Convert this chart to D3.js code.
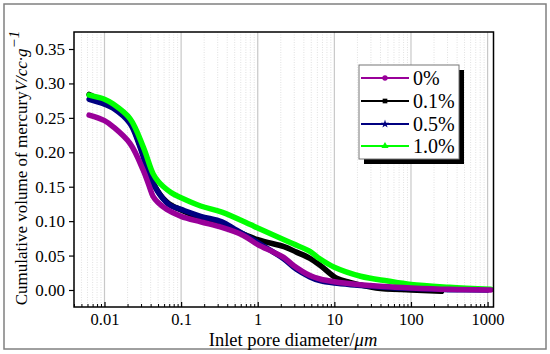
<!DOCTYPE html>
<html><head><meta charset="utf-8">
<script src="https://cdn.jsdelivr.net/npm/d3@7"></script>
<style>body{margin:0;background:#fff}svg{display:block}</style>
</head><body><svg id="c" width="550" height="354"></svg>
<script>
// Pore diameter (µm) and cumulative volume (cc/g)
const series = ["0%", "0.1%", "0.5%", "1.0%"];
const d0  = [0.0063,0.01,0.013,0.0215,0.032,0.038,0.043,0.05,0.065,0.1,0.18,0.34,0.63,1,1.6,2.2,2.9,4.8,6.5,10,20,44,100,316,1100];
const v0  = [0.254,0.246,0.237,0.213,0.174,0.152,0.136,0.127,0.117,0.107,0.099,0.091,0.080,0.066,0.055,0.047,0.036,0.021,0.016,0.012,0.008,0.005,0.003,0.001,0.000];
const d01 = [0.0063,0.01,0.013,0.0215,0.029,0.039,0.046,0.053,0.062,0.072,0.1,0.18,0.34,1,2.2,3.2,4.8,6.5,10.7,16,35,100,250];
const v01 = [0.284,0.273,0.266,0.244,0.210,0.167,0.150,0.139,0.130,0.124,0.116,0.104,0.094,0.073,0.063,0.055,0.046,0.036,0.017,0.011,0.003,0.000,-0.002];
const d05 = [0.0063,0.01,0.013,0.0215,0.029,0.039,0.046,0.053,0.062,0.072,0.1,0.18,0.34,0.53,1,1.6,2.2,3.2,4.8,6.3,10,20,44,100,316,1000];
const v05 = [0.277,0.270,0.264,0.242,0.208,0.165,0.149,0.138,0.129,0.123,0.117,0.107,0.099,0.087,0.069,0.055,0.045,0.030,0.019,0.014,0.010,0.007,0.004,0.002,0.0005,0.000];
const d10 = [0.0063,0.01,0.013,0.0215,0.032,0.043,0.05,0.059,0.075,0.1,0.18,0.34,0.8,1,2.2,2.9,4.8,6.3,10,22,50,100,316,1100];
const v10 = [0.283,0.277,0.270,0.249,0.208,0.169,0.158,0.150,0.141,0.134,0.122,0.113,0.095,0.090,0.073,0.067,0.056,0.046,0.033,0.020,0.013,0.008,0.004,0.001];
const xTicks = [0.01, 0.1, 1, 10, 100, 1000];
const xTickLabels = ["0.01", "0.1", "1", "10", "100", "1000"];
const yTicks = [0, 0.05, 0.10, 0.15, 0.20, 0.25, 0.30, 0.35];

const colors = {"0%":"#990099","0.1%":"#000000","0.5%":"#000080","1.0%":"#00ff00"};
const data = {"0%":[d0,v0],"0.1%":[d01,v01],"0.5%":[d05,v05],"1.0%":[d10,v10]};

const svg = d3.select("#c");
const L=74, R=493.5, T=32, B=307;
const x = d3.scaleLog().domain([Math.pow(10,-2.398), Math.pow(10,3.077)]).range([L,R]);
const y = d3.scaleLinear().domain([-0.0247, 0.3747]).range([B,T]);
const serif = "'Liberation Serif','Times New Roman','DejaVu Serif',serif";

// outer border
svg.append("rect").attr("x",4).attr("y",4).attr("width",542).attr("height",345)
  .attr("fill","none").attr("stroke","#808080").attr("stroke-width",1.5);

// grid lines
const minors = [];
for (let e=-3; e<=3; e++) for (let m=2; m<=9; m++) { const v=m*Math.pow(10,e); if (v> x.domain()[0] && v < x.domain()[1]) minors.push(v); }
svg.append("g").selectAll("line").data(minors).join("line")
  .attr("x1",d=>x(d)).attr("x2",d=>x(d)).attr("y1",T).attr("y2",B)
  .attr("stroke","#d9d9d9").attr("stroke-width",0.8).attr("stroke-dasharray","1,1.5");
svg.append("g").selectAll("line").data(xTicks).join("line")
  .attr("x1",d=>x(d)).attr("x2",d=>x(d)).attr("y1",T).attr("y2",B)
  .attr("stroke","#c8c8c8").attr("stroke-width",1.2);

// curves
const line = d3.line().x(d=>x(d[0])).y(d=>y(d[1])).curve(d3.curveCatmullRom.alpha(0.5));
const drawOrder = ["0.1%","0.5%","1.0%","0%"];
svg.append("clipPath").attr("id","pc").append("rect").attr("x",L).attr("y",T).attr("width",R-L).attr("height",B-T);
drawOrder.forEach(s=>{
  const [ds,vs] = data[s];
  const pts = ds.map((d,i)=>[d,vs[i]]);
  svg.append("path").datum(pts).attr("d",line).attr("fill","none")
    .attr("stroke",colors[s]).attr("stroke-width",5.5).attr("stroke-linejoin","round").attr("stroke-linecap","round")
    .attr("clip-path","url(#pc)");
});

// axes
const yAxis = d3.axisLeft(y).tickValues(yTicks).tickSize(5).tickPadding(4).tickFormat(d3.format(".2f"));
const gy = svg.append("g").attr("transform",`translate(${L},0)`).call(yAxis);
gy.attr("font-family",null).attr("font-size",null);
gy.select(".domain").remove();
gy.selectAll(".tick line").attr("stroke","#000").attr("stroke-width",1.2);
gy.selectAll("text").style("font-family",serif).style("font-size","17px").attr("fill","#000");

const xAxisMajor = d3.axisBottom(x).tickValues(xTicks).tickSize(-5).tickPadding(6).tickFormat((d,i)=>xTickLabels[i]);
const gx = svg.append("g").attr("transform",`translate(0,${B})`).call(xAxisMajor);
gx.attr("font-family",null).attr("font-size",null);
gx.select(".domain").remove();
gx.selectAll(".tick line").attr("stroke","#000").attr("stroke-width",1.2);
gx.selectAll("text").style("font-family",serif).style("font-size","16.5px").attr("fill","#000");
const xAxisMinor = d3.axisBottom(x).tickValues(minors).tickSize(-3).tickFormat("");
const gm = svg.append("g").attr("transform",`translate(0,${B})`).call(xAxisMinor);
gm.select(".domain").remove();
gm.selectAll(".tick line").attr("stroke","#000").attr("stroke-width",1);

// frame
svg.append("rect").attr("x",L).attr("y",T).attr("width",R-L).attr("height",B-T)
  .attr("fill","none").attr("stroke","#000").attr("stroke-width",1.5);

// axis titles
const xt = svg.append("text").attr("x",293).attr("y",346).attr("text-anchor","middle")
  .style("font-family",serif).style("font-size","18.5px").attr("fill","#000");
xt.append("tspan").text("Inlet pore diameter/");
xt.append("tspan").attr("font-style","italic").text("μm");

const yt = svg.append("text").attr("transform","translate(27,168) rotate(-90)").attr("text-anchor","middle")
  .style("font-family",serif).style("font-size","17px").attr("fill","#000");
yt.append("tspan").text("Cumulative volume of mercury");
yt.append("tspan").attr("font-style","italic").text("V/cc·g");
yt.append("tspan").attr("font-style","italic").attr("dy",-8).style("font-size","15px").text("−1");

// legend
const lx=359, ly=65, lw=100, lh=94;
svg.append("rect").attr("x",lx+5).attr("y",ly+5).attr("width",lw).attr("height",lh).attr("fill","#000");
svg.append("rect").attr("x",lx).attr("y",ly).attr("width",lw).attr("height",lh).attr("fill","#fff").attr("stroke","#777").attr("stroke-width",1);
const rows = [78, 101, 124, 146];
const sym = {"0%":d3.symbolCircle,"0.1%":d3.symbolSquare,"0.5%":d3.symbolStar,"1.0%":d3.symbolTriangle};
series.forEach((s,i)=>{
  const g = svg.append("g").attr("transform",`translate(0,${rows[i]})`);
  g.append("line").attr("x1",361).attr("x2",409).attr("y1",0).attr("y2",0).attr("stroke",colors[s]).attr("stroke-width",2);
  g.append("path").attr("d",d3.symbol().type(sym[s]).size(22)).attr("transform","translate(385,0)").attr("fill",colors[s]);
  g.append("text").attr("x",413).attr("y",7).style("font-family",serif).style("font-size","20px").attr("fill","#000").text(s);
});
</script></body></html>
